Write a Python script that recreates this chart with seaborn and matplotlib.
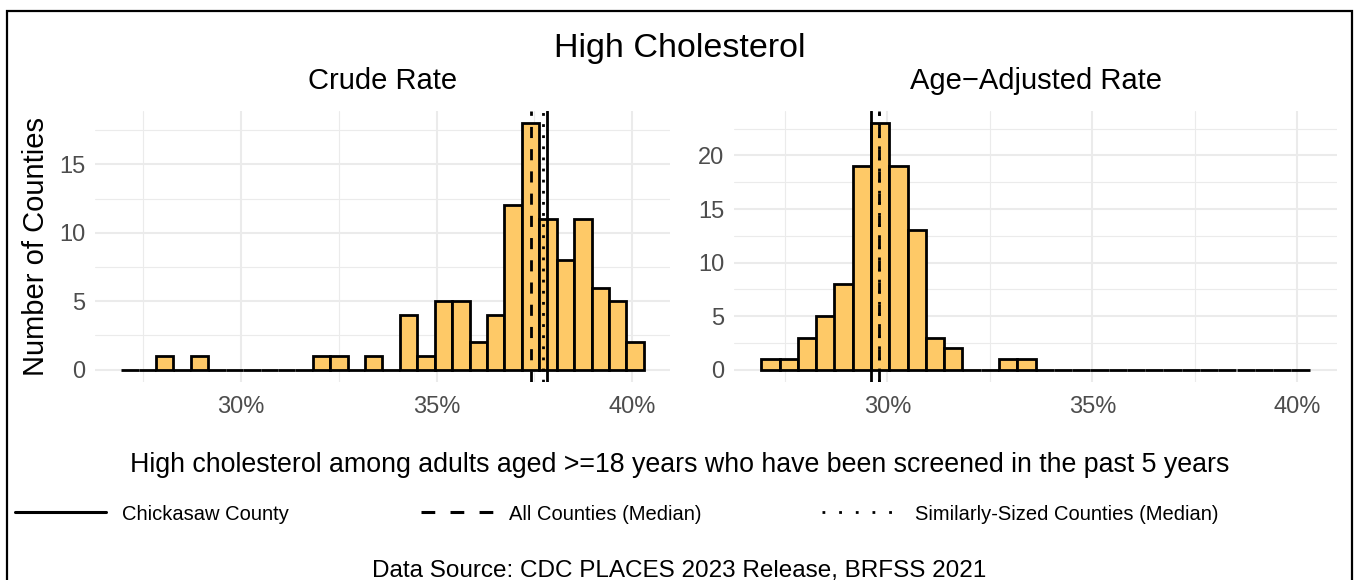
# Import packages
import pandas as pd
import seaborn as sns
import matplotlib.pyplot as plt
from matplotlib.lines import Line2D
from matplotlib.patches import Rectangle
from matplotlib.ticker import FixedLocator, FuncFormatter

# Data (30 bins shared by both panels, 99 counties)
bin_lo = 26.93
bin_hi = 40.30
n_bins = 30

crude_counts = [0, 0, 1, 0, 1, 0, 0, 0, 0, 0,
                0, 1, 1, 0, 1, 0, 4, 1, 5, 5,
                2, 4, 12, 18, 11, 8, 11, 6, 5, 2]
adjusted_counts = [1, 1, 3, 5, 8, 19, 23, 19, 13, 3,
                   2, 0, 0, 1, 1, 0, 0, 0, 0, 0,
                   0, 0, 0, 0, 0, 0, 0, 0, 0, 0]

# Reference lines: county value, all-county median, similar-size median
crude_lines = {'county': 37.82, 'all': 37.42, 'similar': 37.72}
adjusted_lines = {'county': 29.60, 'all': 29.81, 'similar': 29.81}

panel_titles = ['Crude Rate', 'Age\u2212Adjusted Rate']
legend_labels = ['Chickasaw County', 'All Counties (Median)',
                 'Similarly-Sized Counties (Median)']

W, H = 1359, 580
FILL = '#FEC967'
GRID = '#EBEBEB'

sns.set_theme(style="white")
plt.rcParams['font.family'] = ['Liberation Sans', 'DejaVu Sans']
plt.rcParams['text.color'] = 'black'


def draw_panel(ax, counts, lines, title, yticks):
    width = (bin_hi - bin_lo) / n_bins
    centers = [bin_lo + width * (i + 0.5) for i in range(n_bins)]
    df = pd.DataFrame({'rate': centers, 'n': counts})

    sns.histplot(df, x='rate', weights='n', bins=n_bins, binrange=(bin_lo, bin_hi),
                 ax=ax, color=FILL, edgecolor='black', linewidth=2.0, alpha=1, zorder=3)

    ax.axvline(lines['county'], color='black', lw=2.0, zorder=4)
    ax.axvline(lines['all'], color='black', lw=2.0, dashes=(4, 4), zorder=4)
    ax.axvline(lines['similar'], color='black', lw=2.0, dashes=(1, 3), zorder=4)

    # ggplot-style 5% expansion
    span = bin_hi - bin_lo
    ax.set_xlim(bin_lo - 0.05 * span, bin_hi + 0.05 * span)
    ymax = max(counts)
    ax.set_ylim(-0.05 * ymax, ymax * 1.05)

    ax.xaxis.set_major_locator(FixedLocator([30, 35, 40]))
    ax.xaxis.set_minor_locator(FixedLocator([27.5, 32.5, 37.5]))
    ax.xaxis.set_major_formatter(FuncFormatter(lambda v, p: f"{v:.0f}%"))
    ax.yaxis.set_major_locator(FixedLocator(yticks))
    ax.yaxis.set_minor_locator(FixedLocator([t + 2.5 for t in yticks]))

    ax.grid(which='major', color=GRID, lw=1.5, zorder=0)
    ax.grid(which='minor', color=GRID, lw=0.8, zorder=0)
    ax.set_axisbelow(True)
    for s in ax.spines.values():
        s.set_visible(False)
    ax.tick_params(which='both', length=0, labelsize=17, labelcolor='#4D4D4D')
    ax.tick_params(axis='x', pad=10)
    ax.tick_params(axis='y', pad=7)
    ax.set_xlabel('')
    ax.set_ylabel('')
    ax.set_title(title, fontsize=21, pad=15.5, color='black')


fig = plt.figure(figsize=(W / 100, H / 100), dpi=100)
ax1 = fig.add_axes([95 / W, 1 - 382 / H, 575 / W, 271 / H])
ax2 = fig.add_axes([734 / W, 1 - 382 / H, 603 / W, 271 / H])

draw_panel(ax1, crude_counts, crude_lines, panel_titles[0], [0, 5, 10, 15])
draw_panel(ax2, adjusted_counts, adjusted_lines, panel_titles[1], [0, 5, 10, 15, 20])

fig.text(36 / W, 1 - 247 / H, 'Number of Counties', rotation=90,
         ha='center', va='center', fontsize=21)
fig.text(0.5, 1 - 57 / H, 'High Cholesterol', ha='center', va='baseline', fontsize=24.5)
fig.text(0.5, 1 - 472 / H,
         'High cholesterol among adults aged >=18 years who have been screened in the past 5 years',
         ha='center', va='baseline', fontsize=19.3)
fig.text(0.5, 1 - 577 / H, 'Data Source: CDC PLACES 2023 Release, BRFSS 2021',
         ha='center', va='baseline', fontsize=17.5)

# Legend, one entry at a time so spacing follows the reference
handles = [Line2D([], [], color='black', lw=2.2),
           Line2D([], [], color='black', lw=2.2, dashes=(4.5, 5)),
           Line2D([], [], color='black', lw=2.0, dashes=(1, 5))]
key_x = [15, 421, 822]
key_len = [4.5, 3.8, 3.9]
text_pad = [0.8, 0.55, 0.7]
for h, lab, x, kl, tp in zip(handles, legend_labels, key_x, key_len, text_pad):
    fig.legend([h], [lab], loc='center left', bbox_to_anchor=(x / W, 1 - 514 / H),
               frameon=False, fontsize=14.5, handlelength=kl, handletextpad=tp,
               borderpad=0, borderaxespad=0)

# Outer border (bottom edge runs off the image)
fig.add_artist(Rectangle((7 / W, -0.1), (1352 - 7) / W, 1.1 - 11 / H,
                         transform=fig.transFigure, fill=False, ec='black',
                         lw=1.6, clip_on=False))

fig.savefig('out.png', dpi=100)
